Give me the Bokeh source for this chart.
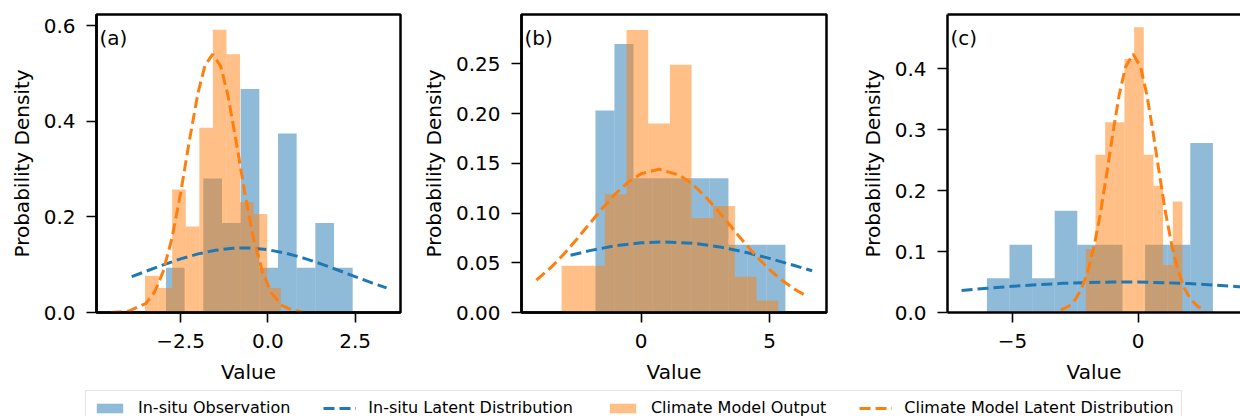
from bokeh.plotting import figure
from bokeh.models import (Range1d, FixedTicker, Label, Legend, LegendItem,
                          LinearAxis, NumeralTickFormatter)
from bokeh.layouts import row, column
from bokeh.embed import file_html
from bokeh.resources import INLINE

BLUE = "#1f77b4"
ORANGE = "#ff7f0e"
FONT = "DejaVu Sans"

# ---------------- data ----------------
# Panel (a)
A_OBS_EDGES = [-2.92, -2.385, -1.85, -1.315, -0.78, -0.245, 0.29, 0.825, 1.36, 1.895, 2.43]
A_OBS_DENS = [0.0935, 0.0, 0.280, 0.187, 0.467, 0.0935, 0.374, 0.0935, 0.187, 0.0935]
A_MOD_EDGES = [-3.52, -3.131, -2.742, -2.353, -1.964, -1.575, -1.186, -0.797, -0.408, -0.019, 0.37]
A_MOD_DENS = [0.077, 0.051, 0.257, 0.180, 0.386, 0.591, 0.540, 0.231, 0.206, 0.051]
A_OBS_CX = [-3.9, -3.5, -3.0, -2.5, -2.0, -1.5, -1.0, -0.7, -0.5, 0.0, 0.5, 1.0, 1.5, 2.0, 2.5, 3.0, 3.4]
A_OBS_CY = [0.0749, 0.0860, 0.0996, 0.1121, 0.1225, 0.1301, 0.1343, 0.1350, 0.1347, 0.1312,
            0.1243, 0.1143, 0.1022, 0.0888, 0.0750, 0.0615, 0.0514]
A_MOD_CX = [-4.5, -4.0, -3.5, -3.25, -3.0, -2.75, -2.5, -2.25, -2.0, -1.8, -1.58, -1.35, -1.15,
            -0.9, -0.65, -0.4, -0.15, 0.1, 0.4, 0.7, 1.0]
A_MOD_CY = [0.0002, 0.0026, 0.0186, 0.0423, 0.0857, 0.1547, 0.2493, 0.3585, 0.4597, 0.5167, 0.540,
            0.5145, 0.4561, 0.3540, 0.2451, 0.1514, 0.0835, 0.0410, 0.0151, 0.0047, 0.0012]

# Panel (b)
B_OBS_EDGES = [-1.78, -1.04, -0.30, 0.44, 1.18, 1.92, 2.66, 3.40, 4.14, 4.88, 5.62]
B_OBS_DENS = [0.203, 0.270, 0.135, 0.135, 0.135, 0.135, 0.135, 0.068, 0.068, 0.068]
B_MOD_EDGES = [-3.10, -2.256, -1.412, -0.568, 0.276, 1.12, 1.964, 2.808, 3.652, 4.496, 5.34]
B_MOD_DENS = [0.047, 0.047, 0.119, 0.284, 0.190, 0.249, 0.095, 0.107, 0.036, 0.012]
B_OBS_CX = [-2.75, -2.0, -1.0, 0.0, 0.9, 2.0, 3.0, 4.0, 5.0, 6.0, 6.66]
B_OBS_CY = [0.0575, 0.0622, 0.0671, 0.0701, 0.0710, 0.0697, 0.0662, 0.0610, 0.0544, 0.0470, 0.0420]
B_MOD_CX = [-4.08, -3.5, -3.0, -2.5, -2.0, -1.5, -1.0, -0.5, 0.0, 0.7, 1.5, 2.0, 2.5, 3.0, 3.5,
            4.0, 4.5, 5.0, 5.5, 6.0, 6.34]
B_MOD_CY = [0.0325, 0.0456, 0.0590, 0.0739, 0.0896, 0.1050, 0.1193, 0.1311, 0.1395, 0.1440,
            0.1381, 0.1290, 0.1166, 0.1020, 0.0864, 0.0708, 0.0562, 0.0432, 0.0321, 0.0231, 0.0181]

# Panel (c)
C_OBS_EDGES = [-6.02, -5.12, -4.22, -3.32, -2.42, -1.52, -0.62, 0.28, 1.18, 2.08, 2.98]
C_OBS_DENS = [0.056, 0.111, 0.056, 0.167, 0.111, 0.111, 0.0, 0.111, 0.111, 0.278]
C_MOD_EDGES = [-2.08, -1.695, -1.311, -0.926, -0.542, -0.157, 0.228, 0.612, 0.997, 1.381, 1.766]
C_MOD_DENS = [0.104, 0.259, 0.312, 0.312, 0.416, 0.468, 0.259, 0.208, 0.078, 0.182]
C_OBS_CX = [-7.03, -6.0, -5.0, -4.0, -3.0, -2.0, -1.0, -0.6, 0.0, 1.0, 2.0, 3.0, 4.0, 4.2]
C_OBS_CY = [0.0361, 0.0398, 0.0430, 0.0457, 0.0478, 0.0492, 0.0499, 0.0500, 0.0499, 0.0490,
            0.0474, 0.0452, 0.0424, 0.0417]
C_MOD_CX = [-3.08, -2.75, -2.5, -2.25, -2.0, -1.75, -1.5, -1.25, -1.0, -0.75, -0.5, -0.2, 0.1,
            0.35, 0.6, 0.85, 1.1, 1.35, 1.6, 1.85, 2.1, 2.4, 2.69]
C_MOD_CY = [0.0039, 0.0107, 0.0212, 0.0393, 0.0678, 0.1088, 0.1629, 0.2272, 0.2952, 0.3573,
            0.4030, 0.4240, 0.4030, 0.3573, 0.2952, 0.2272, 0.1629, 0.1088, 0.0678, 0.0393,
            0.0212, 0.0092, 0.0038]

# ticks
A_XTICKS = [-2.5, 0.0, 2.5]
A_XLABELS = ["\u22122.5", "0.0", "2.5"]
A_YTICKS = [0.0, 0.2, 0.4, 0.6]
B_XTICKS = [0, 5]
B_XLABELS = ["0", "5"]
B_YTICKS = [0.0, 0.05, 0.10, 0.15, 0.20, 0.25]
C_XTICKS = [-5, 0]
C_XLABELS = ["\u22125", "0"]
C_YTICKS = [0.0, 0.1, 0.2, 0.3, 0.4]

LEGEND_LABELS = ["In-situ Observation", "In-situ Latent Distribution",
                 "Climate Model Output", "Climate Model Latent Distribution"]


def panel(letter, obs_edges, obs_dens, mod_edges, mod_dens, obs_cx, obs_cy, mod_cx, mod_cy,
          xr, yr, xticks, xlabels, yticks, yfmt, fw, lb, rb, open_right=False):
    p = figure(frame_width=fw, frame_height=298, min_border_left=lb, min_border_right=rb,
               min_border_top=14, min_border_bottom=78,
               x_range=Range1d(*xr), y_range=Range1d(*yr),
               output_backend="svg", toolbar_location=None, tools="")
    p.xgrid.visible = False
    p.ygrid.visible = False
    p.background_fill_color = "white"
    p.border_fill_color = "white"

    bottom = p.below[0]
    left = p.left[0]

    p.quad(left=obs_edges[:-1], right=obs_edges[1:], top=obs_dens, bottom=0,
           fill_color=BLUE, fill_alpha=0.5, line_color=None)
    p.quad(left=mod_edges[:-1], right=mod_edges[1:], top=mod_dens, bottom=0,
           fill_color=ORANGE, fill_alpha=0.5, line_color=None)
    p.line(obs_cx, obs_cy, line_color=BLUE, line_width=3, line_dash="11 5")
    p.line(mod_cx, mod_cy, line_color=ORANGE, line_width=3, line_dash="11 5")

    for ax in (bottom, left):
        ax.axis_line_width = 2.5
        ax.axis_line_color = "black"
        ax.major_tick_line_width = 1.6
        ax.major_tick_line_color = "black"
        ax.major_tick_in = 0
        ax.major_tick_out = 10
        ax.minor_tick_line_color = None
        ax.major_label_text_font = FONT
        ax.major_label_text_font_size = "20px"
        ax.major_label_text_color = "black"
        ax.axis_label_text_font = FONT
        ax.axis_label_text_font_size = "20px"
        ax.axis_label_text_font_style = "normal"
        ax.axis_label_text_color = "black"
        ax.major_label_standoff = 11
    bottom.axis_label_standoff = 9
    left.axis_label_standoff = 7

    bottom.ticker = FixedTicker(ticks=xticks)
    bottom.major_label_overrides = {t: l for t, l in zip(xticks, xlabels)}
    bottom.axis_label = "Value"
    left.ticker = FixedTicker(ticks=yticks)
    left.formatter = NumeralTickFormatter(format=yfmt)
    left.axis_label = "Probability Density"

    if open_right:
        p.outline_line_color = None
        top = LinearAxis(ticker=FixedTicker(ticks=[]), axis_line_width=2.5,
                         axis_line_color="black", major_tick_line_color=None,
                         minor_tick_line_color=None, major_label_text_font_size="0px",
                         major_label_standoff=0, major_tick_out=0, axis_label_standoff=0)
        p.add_layout(top, "above")
    else:
        p.outline_line_color = "black"
        p.outline_line_width = 2.5
        p.outline_line_alpha = 1.0

    p.add_layout(Label(x=xr[0], y=yr[1], x_offset=3, y_offset=-23, text=letter,
                       text_font=FONT, text_font_size="20px", text_color="black",
                       text_baseline="alphabetic", text_align="left"))
    return p


pa = panel("(a)", A_OBS_EDGES, A_OBS_DENS, A_MOD_EDGES, A_MOD_DENS, A_OBS_CX, A_OBS_CY,
           A_MOD_CX, A_MOD_CY, (-4.91, 3.80), (0, 0.623), A_XTICKS, A_XLABELS, A_YTICKS, "0.0",
           304, 96, 14)
pb = panel("(b)", B_OBS_EDGES, B_OBS_DENS, B_MOD_EDGES, B_MOD_DENS, B_OBS_CX, B_OBS_CY,
           B_MOD_CX, B_MOD_CY, (-4.66, 7.22), (0, 0.2996), B_XTICKS, B_XLABELS, B_YTICKS, "0.00",
           305, 107, 14)
pc = panel("(c)", C_OBS_EDGES, C_OBS_DENS, C_MOD_EDGES, C_MOD_DENS, C_OBS_CX, C_OBS_CY,
           C_MOD_CX, C_MOD_CY, (-7.59, 4.08), (0, 0.489), C_XTICKS, C_XLABELS, C_YTICKS, "0.0",
           293, 107, 0, open_right=True)

# legend strip (dummy renderers sit outside the strip's visible range)
lg = figure(width=1240, height=26, x_range=Range1d(0, 1), y_range=Range1d(0, 1),
            min_border=0, output_backend="svg", toolbar_location=None, tools="",
            x_axis_location=None, y_axis_location=None)
lg.xgrid.visible = False
lg.ygrid.visible = False
lg.outline_line_color = None
lg.background_fill_color = "white"
r1 = lg.quad(left=[10], right=[11], top=[11], bottom=[10], fill_color=BLUE, fill_alpha=0.5,
             line_color=None)
r2 = lg.line(x=[10, 11], y=[10, 10], line_color=BLUE, line_width=3, line_dash="11 5")
r3 = lg.quad(left=[10], right=[11], top=[11], bottom=[10], fill_color=ORANGE, fill_alpha=0.5,
             line_color=None)
r4 = lg.line(x=[10, 11], y=[10, 10], line_color=ORANGE, line_width=3, line_dash="11 5")
legend = Legend(items=[LegendItem(label=LEGEND_LABELS[0], renderers=[r1]),
                       LegendItem(label=LEGEND_LABELS[1], renderers=[r2]),
                       LegendItem(label=LEGEND_LABELS[2], renderers=[r3]),
                       LegendItem(label=LEGEND_LABELS[3], renderers=[r4])],
                orientation="horizontal", location=(85, -9),
                glyph_width=33, glyph_height=12, label_standoff=12, spacing=33,
                padding=7, margin=0, label_text_font=FONT, label_text_font_size="16px",
                label_text_color="black", border_line_color="#cccccc", border_line_width=1.5,
                background_fill_alpha=0.8)
lg.add_layout(legend)

layout = column(row(pa, pb, pc), lg)
open("out.html", "w").write(file_html(layout, INLINE))
